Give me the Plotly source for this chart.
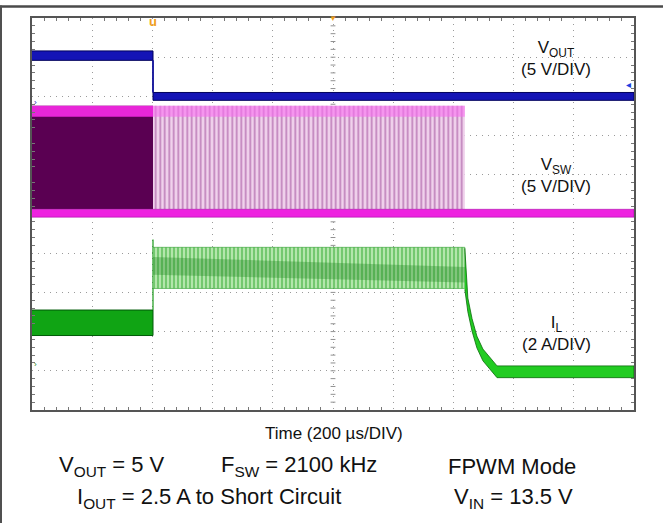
import plotly.graph_objects as go

# ---------------- data (read off the scope capture) ----------------
# time in microseconds from left edge of the screen (200 us/div, 10 div)
t_short = 402      # short circuit applied
t_stop = 1438      # switching stops
t_end = 2000

# VOUT (V): noise band before and after the short
vout_t = [0, t_short, t_short, t_end]
vout_lo = [4.6, 4.6, -0.5, -0.5]
vout_hi = [5.8, 5.8, 0.5, 0.5]

# VSW (V)
vsw_high = 13.8          # top of switching pulses (VIN = 13.5 V)
vsw_top_strip = 12.4     # lower edge of bright top strip
vsw_low_lo = -0.4        # low-level band
vsw_low_hi = 0.6

# IL (A)
il_pre_t = [0, t_short]
il_pre_lo = [1.8, 1.8]
il_pre_hi = [3.1, 3.1]
il_sc_t = [t_short, t_stop]
il_sc_lo = [4.2, 4.2]
il_sc_hi = [6.3, 6.3]
il_core_lo = [4.9, 4.5]
il_core_hi = [5.8, 5.3]
il_spike = 6.7
il_decay_t = [1438, 1448, 1462, 1478, 1498, 1522, 1545, 2000]
il_decay_mid = [5.2, 3.36, 2.34, 1.47, 0.81, 0.35, -0.05, -0.05]
il_decay_half = [1.05, 0.35, 0.32, 0.3, 0.3, 0.3, 0.3, 0.3]

# channel settings (scale per division, ground position in divisions)
ch_vout = dict(scale=5, ground=8.0)
ch_vsw = dict(scale=5, ground=5.0)
ch_il = dict(scale=2, ground=1.0)
NDIV = 10

# ---------------- figure ----------------
W, H = 663, 523
L, R, T, B = 32, 634, 18, 410


def px(x):
    return (x - L) / (R - L)


def py(y):
    return (B - y) / (B - T)


def ch_range(ch):
    return [-ch["ground"] * ch["scale"], (NDIV - ch["ground"]) * ch["scale"]]


fig = go.Figure()
fig.add_trace(go.Scatter(x=[0], y=[0], mode="markers", marker=dict(opacity=0),
                         hoverinfo="skip", showlegend=False))


def band(t, lo, hi, axis, fill, line="rgba(0,0,0,0)", lw=0, pattern=None):
    xs = list(t) + list(t)[::-1]
    ys = list(hi) + list(lo)[::-1]
    kw = {}
    if pattern:
        kw["fillpattern"] = pattern
    fig.add_trace(go.Scatter(x=xs, y=ys, mode="lines", fill="toself",
                             fillcolor=fill, line=dict(color=line, width=lw),
                             yaxis=axis, hoverinfo="skip", showlegend=False, **kw))


def line(t, v, axis, color, lw=1):
    fig.add_trace(go.Scatter(x=t, y=v, mode="lines", line=dict(color=color, width=lw),
                             yaxis=axis, hoverinfo="skip", showlegend=False))


# ---- VSW (yaxis3) ----
band([0, t_short], [vsw_low_hi] * 2, [vsw_high] * 2, "y3", "#5a0052")
band([0, t_short], [vsw_top_strip] * 2, [vsw_high] * 2, "y3", "#e826d8")
band([t_short, t_stop], [vsw_low_hi] * 2, [vsw_high] * 2, "y3", "#efcfea",
     pattern=dict(shape="|", fgcolor="#8e3088", bgcolor="#f0d2ec", size=4.5, solidity=0.38))
band([t_short, t_stop], [vsw_top_strip] * 2, [vsw_high] * 2, "y3", "rgba(248,110,240,0.6)")
band([0, t_end], [vsw_low_lo] * 2, [vsw_low_hi] * 2, "y3", "#ee22e0", line="#a810a8", lw=0.6)

# ---- VOUT (yaxis2) ----
band(vout_t, vout_lo, vout_hi, "y2", "#1414b6", line="#00005c", lw=1)
line([t_short, t_short], [vout_lo[1], vout_hi[2]], "y2", "#1212b4", 1.2)

# ---- IL (yaxis4) ----
band(il_pre_t, il_pre_lo, il_pre_hi, "y4", "#10a414", line="#005a08", lw=1)
line([t_short, t_short], [il_pre_hi[1], il_spike], "y4", "#1a9a1a", 1.2)
band(il_sc_t, il_sc_lo, il_sc_hi, "y4", "#aee2a6", line="#2d9f2d", lw=0.6,
     pattern=dict(shape="|", fgcolor="#1c9e1c", bgcolor="#b4e6ac", size=4, solidity=0.42))
band(il_sc_t, il_core_lo, il_core_hi, "y4", "rgba(30,130,30,0.33)")
il_d_lo = [m - h for m, h in zip(il_decay_mid, il_decay_half)]
il_d_hi = [m + h for m, h in zip(il_decay_mid, il_decay_half)]
band(il_decay_t, il_d_lo, il_d_hi, "y4", "#22cc22", line="#0a6a0a", lw=0.8)

# ---------------- axes ----------------
grid = dict(showgrid=True, gridcolor="#9a9a9a", griddash="1px,5px", gridwidth=1, zeroline=False,
            showticklabels=False)
fig.update_layout(
    width=W, height=H,
    margin=dict(l=L, r=W - R, t=T, b=H - B, pad=0, autoexpand=False),
    paper_bgcolor="white", plot_bgcolor="white",
    font=dict(family="Liberation Sans, Arial, sans-serif", color="#111111"),
    xaxis=dict(range=[0, t_end], dtick=t_end / NDIV, tick0=0, **grid,
               showline=True, mirror="allticks", linecolor="#555555", linewidth=1.5,
               ticks="inside", ticklen=0,
               minor=dict(dtick=t_end / NDIV / 5, ticks="inside", ticklen=3, tickcolor="#777777",
                          showgrid=False)),
    yaxis=dict(range=[0, NDIV], dtick=1, tick0=0, **grid,
               showline=True, mirror="allticks", linecolor="#555555", linewidth=1.5,
               ticks="inside", ticklen=0,
               minor=dict(dtick=0.2, ticks="inside", ticklen=3, tickcolor="#777777",
                          showgrid=False)),
    yaxis2=dict(range=ch_range(ch_vout), overlaying="y", visible=False),
    yaxis3=dict(range=ch_range(ch_vsw), overlaying="y", visible=False),
    yaxis4=dict(range=ch_range(ch_il), overlaying="y", visible=False),
)

# center graticule cross with fine ticks
for k in range(1, NDIV * 5):
    xv = k * t_end / (NDIV * 5)
    fig.add_shape(type="line", xref="x", yref="paper", x0=xv, x1=xv, y0=0.5 - 0.006, y1=0.5 + 0.006,
                  line=dict(color="#909090", width=1), layer="below")
    yv = k / 5
    fig.add_shape(type="line", xref="paper", yref="y", x0=0.5 - 0.004, x1=0.5 + 0.004, y0=yv, y1=yv,
                  line=dict(color="#909090", width=1), layer="below")

# ---------------- outer figure frame ----------------
fig.add_shape(type="line", xref="paper", yref="paper", x0=px(0), x1=px(W), y0=py(6.5), y1=py(6.5),
              line=dict(color="#4a4a4a", width=2.5), layer="above")
fig.add_shape(type="line", xref="paper", yref="paper", x0=px(1), x1=px(1), y0=py(5.5), y1=py(H),
              line=dict(color="#505050", width=2), layer="above")

# ---------------- text ----------------
ann = []


def label(text, x, y, size, anchor="center"):
    ann.append(dict(text=text, x=px(x), y=py(y), xref="paper", yref="paper", showarrow=False,
                    xanchor=anchor, yanchor="middle", align="center",
                    font=dict(size=size, color="#111111")))


label("V<sub>OUT</sub><br>(5 V/DIV)", 556, 59, 17)
label("V<sub>SW</sub><br>(5 V/DIV)", 556, 175, 17)
label("I<sub>L</sub><br>(2 A/DIV)", 556, 333, 17)
label("Time (200 µs/DIV)", 334, 433, 17)
label("V<sub>OUT</sub> = 5 V", 57, 466, 22, "left")
label("F<sub>SW</sub> = 2100 kHz", 219, 466, 22, "left")
label("FPWM Mode", 446, 466, 22, "left")
label("I<sub>OUT</sub> = 2.5 A to Short Circuit", 75, 498, 22, "left")
label("V<sub>IN</sub> = 13.5 V", 452, 498, 22, "left")

# scope markers: trigger position, trigger point, channel ground markers
ann.append(dict(text="<b>u</b>", x=t_short, y=1, xref="x", yref="paper", yanchor="middle",
                showarrow=False, font=dict(size=13, color="#f0a020"), yshift=-3))
ann.append(dict(text="▼", x=t_end / 2, y=1, xref="x", yref="paper", yanchor="middle",
                showarrow=False, font=dict(size=8, color="#f0a020")))
ann.append(dict(text="◂", x=1, y=py(77), xref="paper", yref="paper", xanchor="right",
                showarrow=False, font=dict(size=10, color="#2040e0"), xshift=-1))
ann.append(dict(text="›", x=0, y=ch_vout["ground"] / NDIV, xref="paper", yref="paper",
                xanchor="left", showarrow=False, font=dict(size=8, color="#2020c0")))
ann.append(dict(text="›", x=0, y=ch_il["ground"] / NDIV, xref="paper", yref="paper",
                xanchor="left", showarrow=False, font=dict(size=8, color="#208020")))
fig.update_layout(annotations=ann)

fig.write_html("out.html", config={"displayModeBar": False},
               post_script="document.body.style.margin='0';")
